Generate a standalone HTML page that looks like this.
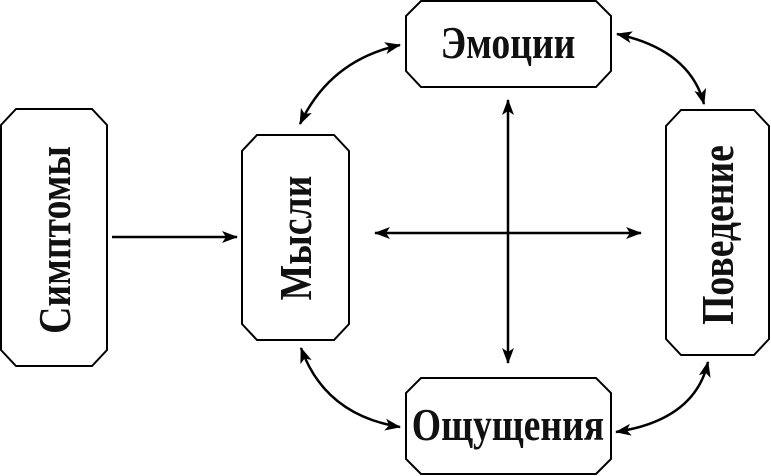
<!DOCTYPE html>
<html><head><meta charset="utf-8"><style>
html,body{margin:0;padding:0;background:#fff;}
svg{display:block;}
text{font-family:"Liberation Serif",serif;font-weight:bold;fill:#111;}
</style></head><body>
<svg width="771" height="476" viewBox="0 0 771 476" xmlns="http://www.w3.org/2000/svg">
<defs>
<marker id="ah" viewBox="0 0 16 12" refX="15" refY="6" markerWidth="16" markerHeight="12" markerUnits="userSpaceOnUse" orient="auto-start-reverse">
<path d="M0,0 L16,6 L0,12 L4,6 Z" fill="#000"/>
</marker>
</defs>
<g fill="#fff" stroke="#000" stroke-width="2">
<polygon points="16,109 92,109 107,125 107,350 92,366 16,366 1,350 1,125"/>
<polygon points="257,135 334,135 349,151 349,324 334,340 257,340 242,324 242,151"/>
<polygon points="421,1 596,1 611,16 611,71 596,87 421,87 406,71 406,16"/>
<polygon points="681,110 754,110 769,126 769,339 754,355 681,355 666,339 666,126"/>
<polygon points="421,378 596,378 611,393 611,459 596,474 421,474 406,459 406,393"/>
</g>
<g font-size="46">
<text transform="translate(70,240) rotate(-90) scale(0.82,1)" text-anchor="middle">Симптомы</text>
<text transform="translate(311,238) rotate(-90) scale(0.82,1)" text-anchor="middle">Мысли</text>
<text transform="translate(733,235) rotate(-90) scale(0.82,1)" text-anchor="middle">Поведение</text>
<text transform="translate(508,58) scale(0.82,1)" text-anchor="middle">Эмоции</text>
<text transform="translate(508,440) scale(0.82,1)" text-anchor="middle">Ощущения</text>
</g>
<g stroke="#000" stroke-width="2.5" fill="none">
<line x1="112" y1="237" x2="237" y2="237" marker-end="url(#ah)"/>
<line x1="375" y1="233" x2="641" y2="233" marker-start="url(#ah)" marker-end="url(#ah)"/>
<line x1="508" y1="100" x2="508" y2="363" marker-start="url(#ah)" marker-end="url(#ah)"/>
<path d="M300,124 Q330,60 400,45" marker-start="url(#ah)" marker-end="url(#ah)"/>
<path d="M617,34 Q690,50 704,104" marker-start="url(#ah)" marker-end="url(#ah)"/>
<path d="M301,348 Q325,415 400,427" marker-start="url(#ah)" marker-end="url(#ah)"/>
<path d="M708,362 Q695,420 616,432" marker-start="url(#ah)" marker-end="url(#ah)"/>
</g>
</svg>
</body></html>
